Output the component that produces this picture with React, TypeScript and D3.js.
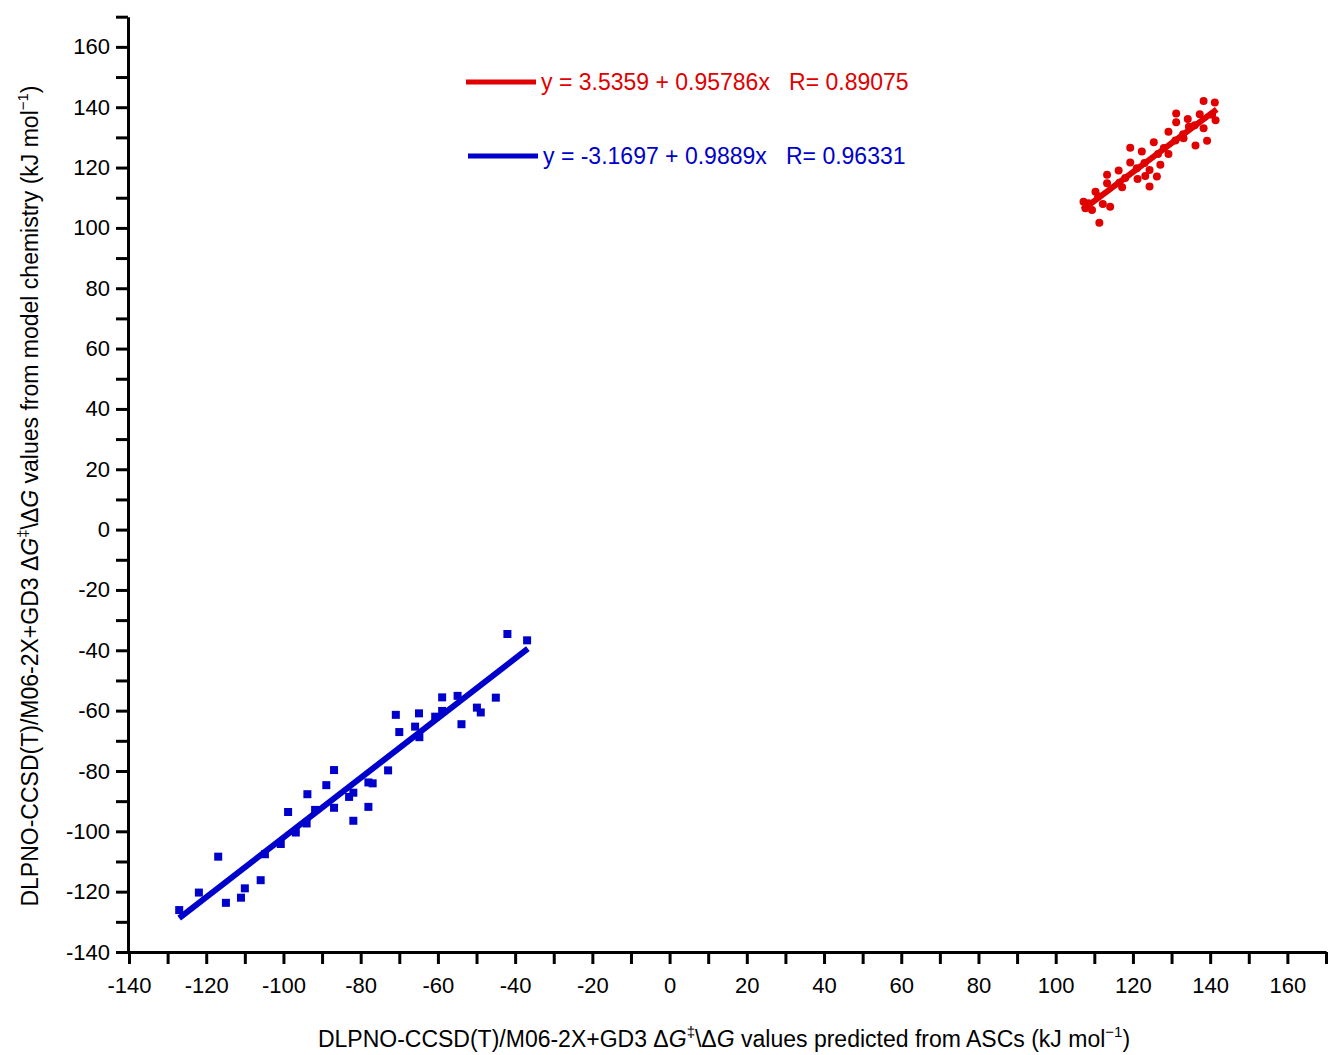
import React, { useEffect, useRef } from "react";
import * as d3 from "d3";

// red series (x predicted, y model)
const redX = [138.3, 141.2, 131.2, 137.3, 134.2, 131.2, 141.4, 138.3, 129.2, 133.1, 139.2, 136.2, 125.4, 119.3, 122.3, 129.2, 119.3, 127.1, 124.3, 116.3, 123.2, 126.2, 121.2, 113.3, 113.3, 117.2, 124.3, 110.3, 107.2, 112.2, 114.1, 109.4, 107.7, 111.3, 108.5, 111, 116.5, 118, 121, 123, 126.5, 128, 131, 133, 136, 140.5, 134.5];
const redY = [142.1, 141.6, 137.9, 137.7, 136.1, 135, 135.7, 133, 131.9, 129.7, 128.9, 127.3, 128.4, 126.6, 125.3, 124.5, 121.7, 120.9, 119.2, 119, 117.2, 117, 116.2, 117.6, 114.8, 113.5, 113.7, 112, 108.7, 107.9, 107, 105.9, 106.5, 101.7, 108.2, 110.5, 115, 116.5, 119.8, 121.5, 124.5, 126.5, 129, 131, 134, 137.5, 133.5];

// blue series
const blueX = [-127.0, -121.9, -116.9, -114.9, -111, -110, -105.9, -104.8, -100.7, -96.8, -94, -81.9, -98.8, -91.8, -86.9, -78, -93.8, -83, -81.9, -88.9, -78, -76.9, -86.9, -72.9, -70.9, -70, -65.9, -64.9, -64.8, -60.7, -58.9, -58.9, -54.9, -53.9, -49.9, -48.9, -45, -42, -36.9];
const blueY = [-126.1, -120.3, -108.4, -123.7, -122, -118.9, -116.2, -107.6, -104.2, -100.4, -97.4, -96.5, -93.6, -92.9, -92.2, -91.9, -87.7, -88.6, -87.2, -84.7, -83.8, -84.1, -79.7, -79.8, -61.4, -67.1, -65.3, -60.9, -68.8, -62, -55.6, -60.1, -55.1, -64.5, -59, -60.6, -55.7, -34.6, -36.7];

// linear fits
const redFit = { a: 3.5359, b: 0.95786, r: 0.89075, x0: 107, x1: 141.7 };
const blueFit = { a: -3.1697, b: 0.9889, r: 0.96331, x0: -127, x1: -36.7 };

const RED = "#e00000";
const BLUE = "#0000cc";
const FONT = "'Liberation Sans', Arial, sans-serif";

export default function App() {
  const svgRef = useRef<SVGSVGElement>(null);

  useEffect(() => {
    const svg = d3.select(svgRef.current);
    svg.selectAll("*").remove();

    const x = d3.scaleLinear().domain([-140, 170]).range([129, 1326]);
    const y = d3.scaleLinear().domain([-140, 170]).range([952, 16.7]);
    const ticks = d3.range(-140, 171, 10);
    const fmt = (d: number) => (d % 20 === 0 ? String(d) : "");

    const xAxis = svg
      .append("g")
      .attr("transform", "translate(0,952)")
      .call(d3.axisBottom(x).tickValues(ticks).tickFormat(fmt as any).tickSize(12).tickSizeOuter(0).tickPadding(13));
    const yAxis = svg
      .append("g")
      .attr("transform", "translate(128,0)")
      .call(d3.axisLeft(y).tickValues(ticks).tickFormat(fmt as any).tickSize(12).tickSizeOuter(0).tickPadding(6));

    [xAxis, yAxis].forEach((g) => {
      g.select(".domain").attr("stroke", "#000").attr("stroke-width", 3);
      g.selectAll(".tick line").attr("stroke", "#000").attr("stroke-width", 3);
      g.selectAll(".tick text").attr("font-family", FONT).attr("font-size", 22).attr("fill", "#000");
    });

    // red
    svg
      .append("g")
      .selectAll("circle")
      .data(d3.zip(redX, redY))
      .join("circle")
      .attr("cx", (d) => x(d[0]))
      .attr("cy", (d) => y(d[1]))
      .attr("r", 4)
      .attr("fill", RED);

    svg
      .append("line")
      .attr("x1", x(redFit.x0))
      .attr("y1", y(redFit.a + redFit.b * redFit.x0))
      .attr("x2", x(redFit.x1))
      .attr("y2", y(redFit.a + redFit.b * redFit.x1))
      .attr("stroke", RED)
      .attr("stroke-width", 6);

    // blue
    svg
      .append("g")
      .selectAll("rect")
      .data(d3.zip(blueX, blueY))
      .join("rect")
      .attr("x", (d) => x(d[0]) - 4)
      .attr("y", (d) => y(d[1]) - 4)
      .attr("width", 8)
      .attr("height", 8)
      .attr("fill", BLUE);

    svg
      .append("line")
      .attr("x1", x(blueFit.x0))
      .attr("y1", y(blueFit.a + blueFit.b * blueFit.x0))
      .attr("x2", x(blueFit.x1))
      .attr("y2", y(blueFit.a + blueFit.b * blueFit.x1))
      .attr("stroke", BLUE)
      .attr("stroke-width", 6);

    // legend
    const legend = [
      { color: RED, x: 466, y: 82, text: "y = 3.5359 + 0.95786x   R= 0.89075" },
      { color: BLUE, x: 468, y: 156, text: "y = -3.1697 + 0.9889x   R= 0.96331" },
    ];
    legend.forEach((l) => {
      svg.append("line").attr("x1", l.x).attr("x2", l.x + 70).attr("y1", l.y).attr("y2", l.y)
        .attr("stroke", l.color).attr("stroke-width", 5);
      svg.append("text").attr("x", l.x + 75).attr("y", l.y + 8)
        .attr("font-family", FONT).attr("font-size", 23).attr("fill", l.color)
        .attr("xml:space", "preserve").style("white-space", "pre").text(l.text);
    });

    // axis titles
    const title = (g: d3.Selection<SVGTextElement, unknown, null, undefined>, tail: string) => {
      g.append("tspan").text("DLPNO-CCSD(T)/M06-2X+GD3 \u0394");
      g.append("tspan").attr("font-style", "italic").text("G");
      g.append("tspan").attr("font-size", 15).attr("dy", -10).text("\u2021");
      g.append("tspan").attr("dy", 10).text("\\\u0394");
      g.append("tspan").attr("font-style", "italic").text("G");
      g.append("tspan").text(tail);
      g.append("tspan").attr("font-size", 15).attr("dy", -10).text("\u22121");
      g.append("tspan").attr("dy", 10).text(")");
    };

    const xt = svg.append("text").attr("x", 724).attr("y", 1047).attr("text-anchor", "middle")
      .attr("font-family", FONT).attr("font-size", 23).attr("fill", "#000");
    title(xt as any, " values predicted from ASCs (kJ mol");

    const yt = svg.append("text").attr("transform", "translate(38,496) rotate(-90)").attr("text-anchor", "middle")
      .attr("font-family", FONT).attr("font-size", 23).attr("fill", "#000");
    title(yt as any, " values from model chemistry (kJ mol");
  }, []);

  return (
    <svg
      ref={svgRef}
      width={1330}
      height={1055}
      style={{ position: "absolute", left: 0, top: 0, background: "#fff" }}
    />
  );
}
